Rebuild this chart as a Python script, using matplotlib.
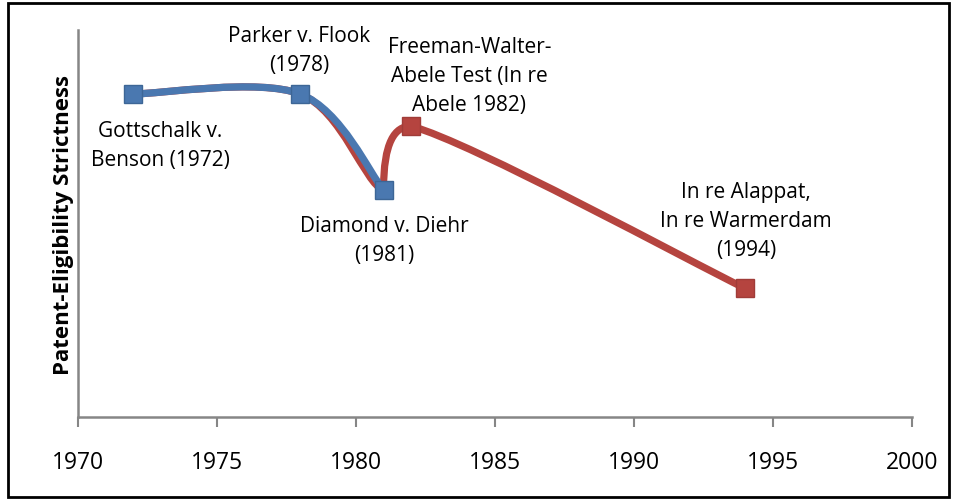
import numpy as np
import matplotlib
matplotlib.use("Agg")
import matplotlib.pyplot as plt
from matplotlib.path import Path
from matplotlib.patches import PathPatch, Rectangle

plt.rcParams['font.family'] = ['Open Sans', 'DejaVu Sans']

# ---- data ----
blue_years = [1972, 1978, 1981]
blue_vals = [8.35, 8.35, 5.87]
red_years = [1972, 1978, 1981, 1982, 1994]
red_vals = [8.35, 8.35, 5.87, 7.52, 3.33]
red_marker_years = [1982, 1994]
red_marker_vals = [7.52, 3.33]
x_ticks = [1970, 1975, 1980, 1985, 1990, 1995, 2000]
labels = [
    ("Gottschalk v.\nBenson (1972)", 1972, 8.35),
    ("Parker v. Flook\n(1978)", 1978, 8.35),
    ("Diamond v. Diehr\n(1981)", 1981, 5.87),
    ("Freeman-Walter-\nAbele Test (In re\nAbele 1982)", 1982, 7.52),
    ("In re Alappat,\nIn re Warmerdam\n(1994)", 1994, 3.33),
]
y_title = "Patent-Eligibility Strictness"

BLUE = "#4a78b0"
RED = "#b5443f"
AXC = "#868686"

fig = plt.figure(figsize=(9.56, 5.02), dpi=100)
ax = fig.add_axes([0.0813, 0.167, 0.8724, 0.771])
ax.set_xlim(1970, 2000)
ax.set_ylim(0, 10)


def smooth_path(xs, ys, cusp=None):
    P = ax.transData.transform(np.column_stack([xs, ys]))
    n = len(P)
    verts = [P[0]]
    codes = [Path.MOVETO]
    f = 1 / 6
    for i in range(n - 1):
        p0 = P[i - 1] if i > 0 else P[i]
        p1, p2 = P[i], P[i + 1]
        p3 = P[i + 2] if i + 2 < n else P[i + 1]
        d12 = np.linalg.norm(p2 - p1)
        d02 = np.linalg.norm(p2 - p0)
        d13 = np.linalg.norm(p3 - p1)
        f0 = f if d02 / 6 < d12 / 2 else d12 / (2 * d02)
        f1 = f if d13 / 6 < d12 / 2 else d12 / (2 * d13)
        c1 = p1 + (p2 - p0) * f0
        c2 = p2 - (p3 - p1) * f1
        if cusp is not None and i == cusp:
            dy = p2[1] - p1[1]
            dx = p2[0] - p1[0]
            c1 = p1 + np.array([0.0, 0.75 * dy])
            c2 = p2 - np.array([0.6 * dx, 0.0])
        verts += [c1, c2, p2]
        codes += [Path.CURVE4] * 3
    inv = ax.transData.inverted()
    return Path(inv.transform(np.array(verts)), codes)


red_path = smooth_path(red_years, red_vals, cusp=2)
ax.add_patch(PathPatch(red_path, fill=False, edgecolor=RED, lw=5.2,
                       capstyle='round', joinstyle='round', zorder=2))
blue_path = smooth_path(blue_years, blue_vals)
ax.add_patch(PathPatch(blue_path, fill=False, edgecolor=BLUE, lw=5.2,
                       capstyle='round', joinstyle='round', zorder=3))

ax.plot(red_marker_years, red_marker_vals, linestyle='none', marker='s',
        markersize=13.5, color=RED, markeredgecolor="#a03c38", zorder=4)
ax.plot(blue_years, blue_vals, linestyle='none', marker='s',
        markersize=13.5, color=BLUE, markeredgecolor="#3d6696", zorder=5)

# annotations (offsets in pixels)
offsets = [(27, -51), (-1, 44), (1, -50), (58, 51), (1, 68)]
for (txt, x, y), (dx, dy) in zip(labels, offsets):
    ax.annotate(txt, (x, y), xytext=(dx, dy), textcoords='offset pixels',
                ha='center', va='center', fontsize=15, linespacing=1.5)

ax.set_xticks(x_ticks)
ax.set_xticklabels([str(t) for t in x_ticks], fontsize=16.5)
ax.set_yticks([])
for s in ['top', 'right']:
    ax.spines[s].set_visible(False)
for s in ['left', 'bottom']:
    ax.spines[s].set_color(AXC)
    ax.spines[s].set_linewidth(1.8)
ax.tick_params(axis='x', direction='out', length=7, width=1.5, color=AXC, pad=17)
ax.set_ylabel(y_title, fontsize=16, fontweight='bold', labelpad=3)
ax.patch.set_alpha(0)

fig.patches.append(Rectangle((8 / 956, 4 / 502), 941 / 956, 494 / 502,
                             transform=fig.transFigure, fill=False,
                             edgecolor='black', lw=2))

fig.savefig("out.png", dpi=100)
